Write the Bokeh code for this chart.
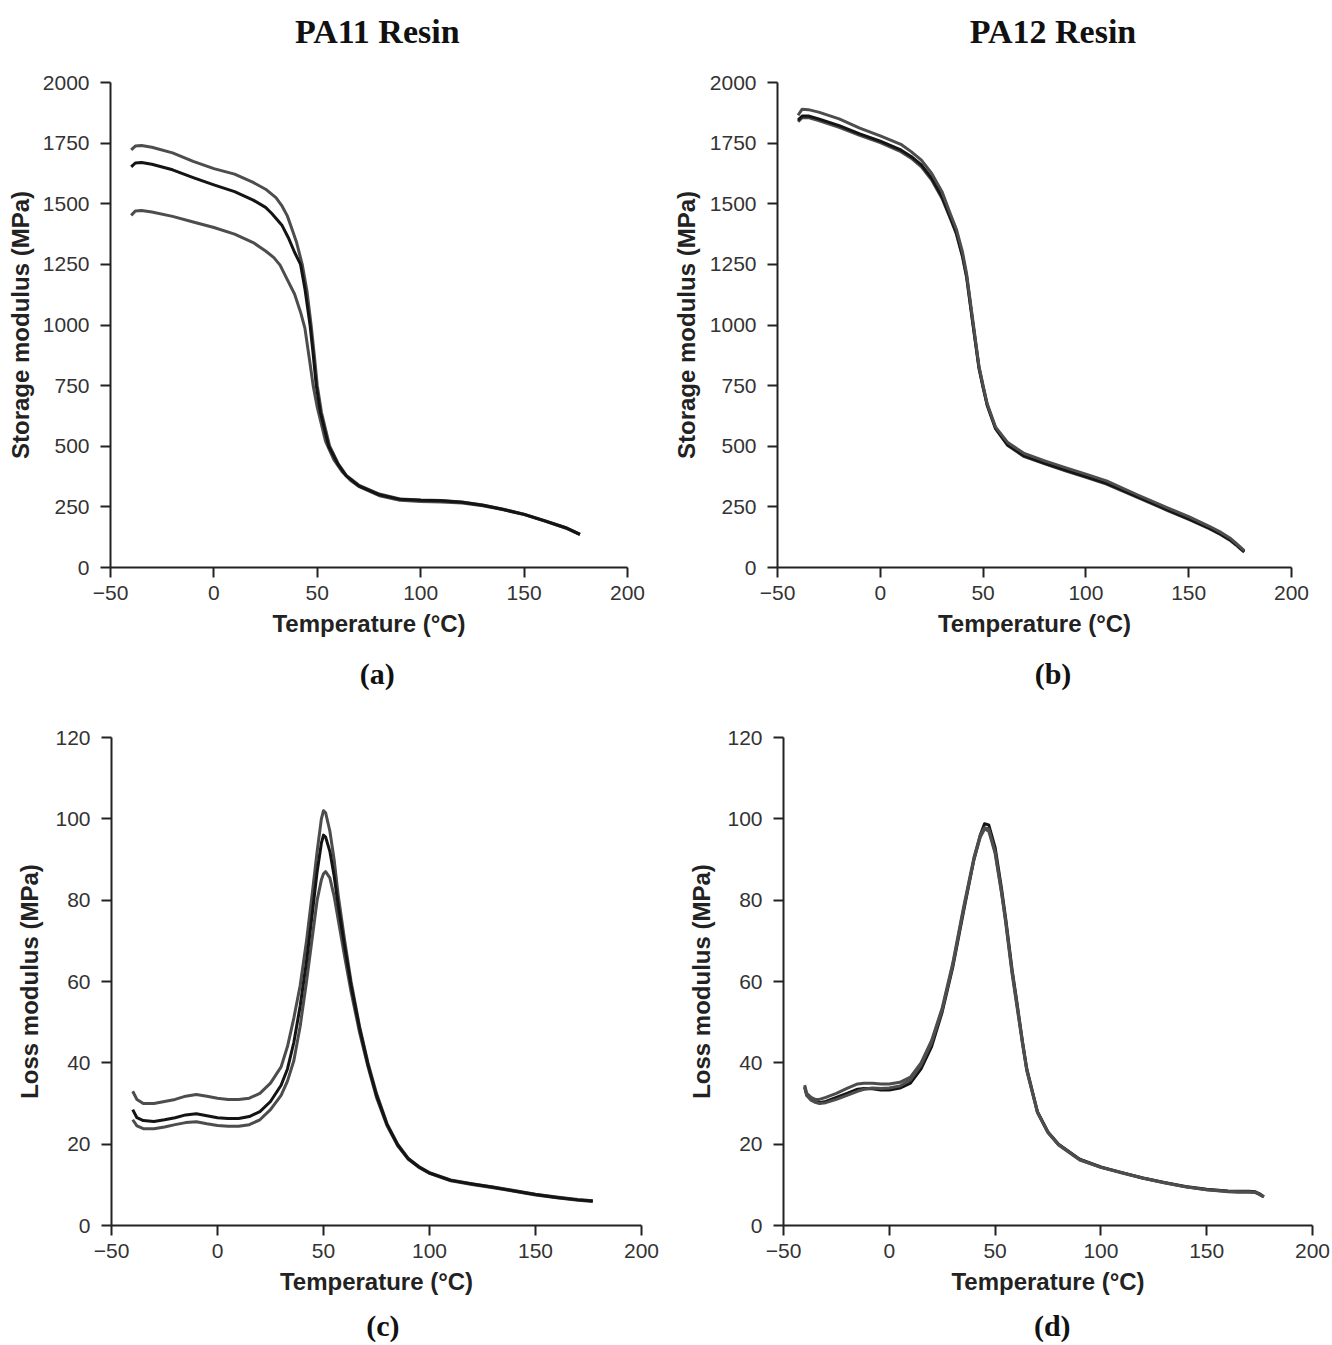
from bokeh.plotting import figure
from bokeh.models import Range1d, FixedTicker, LinearAxis
from bokeh.layouts import column, row
from bokeh.embed import file_html
from bokeh.resources import INLINE

# ---------------- data ----------------
# (a) PA11 storage modulus (MPa) vs temperature (°C)
a1_T = [-40, -38, -35, -30, -20, -10, 0, 10, 19, 25, 30, 33, 35.5, 38, 40, 42.7, 45, 47, 48.5, 50,
        52, 56, 60, 64, 70, 80, 90, 100, 110, 120, 130, 140, 150, 160, 170, 177]
a1_E = [1722, 1738, 1740, 1733, 1710, 1675, 1645, 1622, 1588, 1560, 1525, 1490, 1450, 1390, 1340, 1250, 1140, 1000, 880, 750,
        640, 500, 430, 380, 340, 303, 283, 278, 276, 270, 258, 240, 220, 193, 165, 138]
a2_T = [-40, -38, -35, -30, -20, -10, 0, 10, 19, 25, 28, 33, 36, 39, 41.9, 44, 46.5, 48, 49.5, 51.5,
        55.5, 60, 64, 70, 80, 90, 100, 110, 120, 130, 140, 150, 160, 170, 177]
a2_E = [1652, 1668, 1670, 1663, 1640, 1608, 1578, 1550, 1515, 1485, 1460, 1410, 1360, 1300, 1250, 1150, 1000, 880, 750, 640,
        500, 425, 378, 337, 300, 281, 277, 275, 269, 257, 239, 219, 192, 164, 137]
a3_T = [-40, -38, -35, -30, -20, -10, 0, 10, 19, 25, 29, 32, 35, 39, 42, 44, 46, 48, 50,
        54, 58, 62, 66, 70, 80, 90, 100, 110, 120, 130, 140, 150, 160, 170, 177]
a3_E = [1452, 1470, 1472, 1466, 1448, 1425, 1402, 1375, 1340, 1305, 1278, 1247, 1195, 1128, 1050, 987, 870, 750, 660,
        520, 445, 395, 360, 335, 296, 277, 272, 270, 266, 255, 238, 218, 191, 163, 136]

# (b) PA12 storage modulus (MPa)
b_T = [-40, -38, -35, -30, -20, -10, 0, 10, 15, 20, 25, 30, 34, 37, 40, 42, 45, 48, 50, 52, 56, 62,
       70, 80, 90, 100, 110, 125, 140, 150, 160, 165, 170, 173, 175, 177]
b1_E = [1865, 1890, 1888, 1878, 1850, 1812, 1780, 1745, 1715, 1680, 1625, 1550, 1460, 1395, 1300, 1210, 1020, 830, 750, 675, 580, 515,
        470, 440, 412, 385, 357, 300, 245, 210, 170, 148, 122, 100, 85, 70]
b2_E = [1845, 1862, 1862, 1850, 1822, 1788, 1758, 1722, 1695, 1660, 1605, 1530, 1445, 1380, 1285, 1200, 1010, 825, 745, 670, 575, 505,
        460, 430, 402, 375, 347, 292, 237, 200, 162, 140, 115, 95, 80, 65]
b3_E = [1838, 1855, 1855, 1843, 1815, 1782, 1752, 1715, 1688, 1652, 1598, 1522, 1440, 1375, 1280, 1195, 1005, 820, 742, 668, 573, 503,
        457, 427, 399, 372, 344, 289, 234, 198, 160, 138, 113, 93, 78, 63]

# (c) PA11 loss modulus (MPa)
c_T = [-40, -38, -35, -30, -25, -20, -15, -10, -5, 0, 5, 10, 15, 20, 25, 30, 33, 36, 39, 42, 45, 47, 49, 50, 51,
       53, 55, 57, 60, 63, 67, 71, 75, 80, 85, 90, 95, 100, 110, 120, 130, 140, 150, 160, 170, 177]
c1_E = [33, 31, 30, 30, 30.5, 31, 31.8, 32.2, 31.8, 31.3, 31, 31, 31.3, 32.5, 35, 39, 44, 51, 59, 70, 83, 92, 100, 102, 101.5,
        97, 90, 81, 70, 60, 49, 40, 32.5, 25, 20, 16.5, 14.5, 13, 11.2, 10.3, 9.5, 8.6, 7.7, 7, 6.4, 6.1]
c2_E = [28.5, 26.5, 25.8, 25.6, 26, 26.5, 27.2, 27.5, 27, 26.5, 26.3, 26.3, 26.8, 28, 30.5, 34.5, 38.5, 45, 54, 65, 78, 87, 94, 96, 95.5,
        92, 86, 78.5, 68.5, 59, 48.5, 39.5, 32, 24.8, 19.8, 16.4, 14.4, 12.9, 11.1, 10.2, 9.4, 8.5, 7.6, 6.9, 6.3, 6.0]
c3_E = [26, 24.5, 23.8, 23.8, 24.2, 24.8, 25.3, 25.5, 25, 24.6, 24.4, 24.4, 24.8, 26, 28.5, 32, 35.5, 40.5, 49, 60, 72, 80, 85, 86.5, 87,
        85.5, 81, 75, 66, 57.5, 47.5, 39, 31.5, 24.5, 19.6, 16.3, 14.3, 12.8, 11, 10.1, 9.3, 8.4, 7.5, 6.8, 6.2, 5.9]

# (d) PA12 loss modulus (MPa)
d_T = [-40, -39, -37, -35, -33, -30, -25, -20, -15, -12, -8, -4, 0, 5, 10, 15, 20, 25, 30, 35, 40, 43, 45, 47, 50,
       53, 55, 58, 60, 63, 65, 70, 75, 80, 90, 100, 110, 120, 130, 140, 150, 160, 165, 170, 173, 175, 177]
d1_E = [34.5, 32.5, 31.5, 31, 31, 31.5, 32.5, 33.7, 34.8, 35, 35, 34.8, 34.8, 35.2, 36.5, 40, 45.5, 53.5, 64.5, 78, 90.5, 96, 97.8, 97.5, 92,
        82, 74.5, 62, 55, 44.5, 38, 27.8, 22.8, 19.8, 16.1, 14.3, 12.9, 11.6, 10.5, 9.5, 8.8, 8.3, 8.2, 8.2, 8.1, 7.6, 7.0]
d2_E = [34, 32, 31, 30.5, 30.2, 30.5, 31.5, 32.5, 33.5, 33.7, 33.6, 33.3, 33.3, 33.8, 35, 38.5, 44, 52.5, 63.5, 77, 90, 96, 98.8, 98.5, 93,
        83, 75.5, 63, 56, 45, 38.5, 28, 23, 20, 16.3, 14.4, 13, 11.7, 10.6, 9.6, 8.9, 8.5, 8.4, 8.4, 8.3, 7.8, 7.1]
d3_E = [34, 32, 30.8, 30.3, 30, 30.2, 31, 32, 33, 33.5, 33.8, 33.7, 33.8, 34.3, 35.8, 39.5, 45, 53, 64, 77.5, 90, 95.5, 97.5, 97, 91.5,
        82, 75, 62.5, 55.5, 44.8, 38.2, 27.9, 22.9, 19.9, 16.2, 14.3, 13, 11.6, 10.5, 9.5, 8.8, 8.4, 8.3, 8.3, 8.2, 7.7, 7.0]

x_ticks = [-50, 0, 50, 100, 150, 200]
storage_ticks = [0, 250, 500, 750, 1000, 1250, 1500, 1750, 2000]
loss_ticks = [0, 20, 40, 60, 80, 100, 120]
titles = ["PA11 Resin", "PA12 Resin"]
panel_tags = ["(a)", "(b)", "(c)", "(d)"]
x_label = "Temperature (°C)"
storage_label = "Storage modulus (MPa)"
loss_label = "Loss modulus (MPa)"

GRAY = "#4d4d4d"
BLACK = "#141414"
SANS = "Liberation Sans"
SERIF = "Liberation Serif"


def make_fig(w, h, bl, br, bt, bb, y_end, yticks, ylabel, ylabel_standoff):
    p = figure(width=w, height=h, min_border_left=bl, min_border_right=br,
               min_border_top=bt, min_border_bottom=bb,
               x_range=Range1d(-50, 200), y_range=Range1d(0, y_end),
               output_backend="svg", toolbar_location=None)
    p.outline_line_color = None
    p.background_fill_color = "white"
    p.border_fill_color = "white"
    p.xgrid.visible = False
    p.ygrid.visible = False
    for ax in (p.xaxis[0], p.yaxis[0]):
        ax.axis_line_color = "#222222"
        ax.axis_line_width = 2
        ax.major_tick_line_color = "#222222"
        ax.major_tick_line_width = 2
        ax.major_tick_out = 10
        ax.major_tick_in = 0
        ax.minor_tick_line_color = None
        ax.major_label_text_font = SANS
        ax.major_label_text_font_size = "21px"
        ax.major_label_text_color = "#333333"
        ax.axis_label_text_font = SANS
        ax.axis_label_text_font_size = "24px"
        ax.axis_label_text_font_style = "bold"
        ax.axis_label_text_color = "#222222"
    p.xaxis[0].ticker = FixedTicker(ticks=x_ticks)
    p.xaxis[0].major_label_overrides = {-50: "\u221250"}
    p.xaxis[0].major_label_standoff = 8
    p.xaxis[0].axis_label = x_label
    p.xaxis[0].axis_label_standoff = 7
    p.yaxis[0].ticker = FixedTicker(ticks=yticks)
    p.yaxis[0].major_label_standoff = 11
    p.yaxis[0].axis_label = ylabel
    p.yaxis[0].axis_label_standoff = ylabel_standoff
    return p


def add_caption(p, side, at, text, size, standoff):
    """A text-only axis used as a caption, centred at data x = at."""
    ax = LinearAxis(ticker=FixedTicker(ticks=[at]), major_label_overrides={at: text})
    ax.axis_line_color = None
    ax.major_tick_line_color = None
    ax.minor_tick_line_color = None
    ax.major_tick_out = 0
    ax.major_tick_in = 0
    ax.major_label_standoff = standoff
    ax.major_label_text_font = SERIF
    ax.major_label_text_font_size = size
    ax.major_label_text_font_style = "bold"
    ax.major_label_text_color = "#111111"
    p.add_layout(ax, side)


# (a)
pa = make_fig(660, 700, 110, 33, 82, 133, 2000, storage_ticks, storage_label, 6)
pa.line(a3_T, a3_E, line_color=GRAY, line_width=3, line_join="round")
pa.line(a1_T, a1_E, line_color=GRAY, line_width=3, line_join="round")
pa.line(a2_T, a2_E, line_color=BLACK, line_width=3, line_join="round")
add_caption(pa, "above", 79, titles[0], "34px", 33)
add_caption(pa, "below", 79, panel_tags[0], "30px", 17)

# (b)
pb = make_fig(671, 700, 117, 40, 82, 133, 2000, storage_ticks, storage_label, 7)
pb.line(b_T, b3_E, line_color=GRAY, line_width=3, line_join="round")
pb.line(b_T, b2_E, line_color=BLACK, line_width=3, line_join="round")
pb.line(b_T, b1_E, line_color=GRAY, line_width=3, line_join="round")
add_caption(pb, "above", 84, titles[1], "34px", 33)
add_caption(pb, "below", 84, panel_tags[1], "30px", 17)

# (c)
pc = make_fig(660, 645, 111, 19, 37, 120, 120, loss_ticks, loss_label, 9)
pc.line(c_T, c3_E, line_color=GRAY, line_width=3, line_join="round")
pc.line(c_T, c1_E, line_color=GRAY, line_width=3, line_join="round")
pc.line(c_T, c2_E, line_color=BLACK, line_width=3, line_join="round")
add_caption(pc, "below", 78, panel_tags[2], "30px", 11)

# (d)
pd_ = make_fig(671, 645, 123, 19, 37, 120, 120, loss_ticks, loss_label, 9)
pd_.line(d_T, d2_E, line_color=BLACK, line_width=3, line_join="round")
pd_.line(d_T, d3_E, line_color=GRAY, line_width=3, line_join="round")
pd_.line(d_T, d1_E, line_color=GRAY, line_width=3, line_join="round")
add_caption(pd_, "below", 77, panel_tags[3], "30px", 11)

layout = column(row(pa, pb), row(pc, pd_))
open("out.html", "w").write(file_html(layout, INLINE))
